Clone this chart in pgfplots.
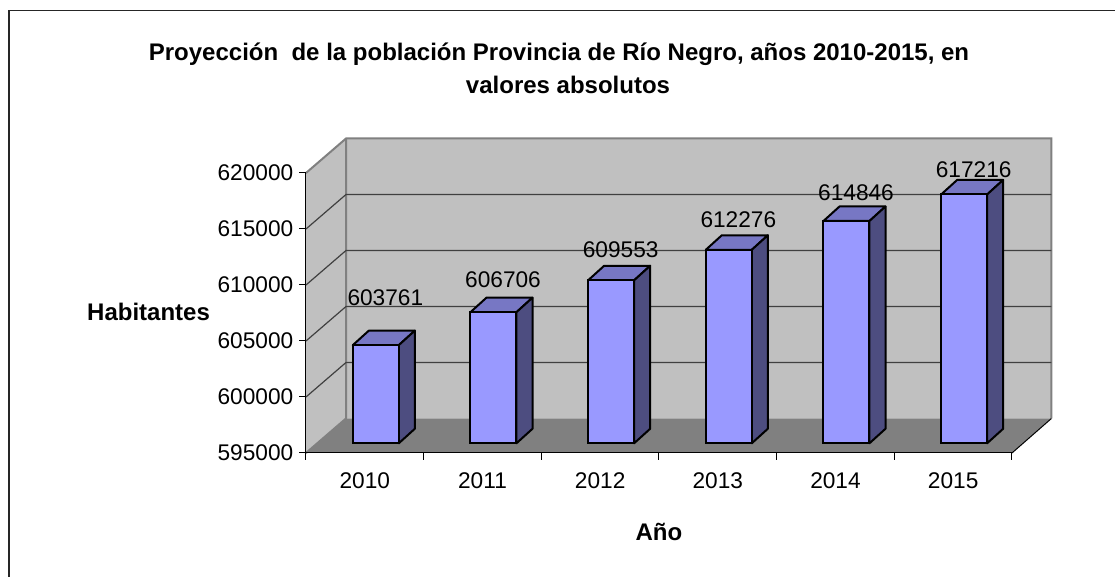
\documentclass[border=0pt]{standalone}
\usepackage{fontspec}
\setmainfont{Liberation Sans}
\usepackage{pgfplots}
\usepackage{pgfplotstable}
\pgfplotsset{compat=1.18}

\definecolor{wall}{HTML}{C0C0C0}
\definecolor{floorc}{HTML}{808080}
\definecolor{barfront}{HTML}{9999FF}
\definecolor{bartop}{HTML}{7777C4}
\definecolor{barside}{HTML}{4D4D80}

% x index, value, height of the label baseline on the value scale
\pgfplotstableread{
x   pop    laby
0.5 603761 608125
1.5 606706 609732
2.5 609553 612411
3.5 612276 615089
4.5 614846 617527
5.5 617216 619554
}\poptable

% top and side of a bar: x0, x0 back, x1, x1 back, value, value back
\newcommand{\barfaces}[6]{
  \addplot[fill=bartop, draw=black, line width=1.5pt, line join=round, barshift]
    coordinates {(#1,#5) (#3,#5) (#4,#6) (#2,#6)} -- cycle;
  \addplot[fill=barside, draw=black, line width=1.5pt, line join=round, barshift]
    coordinates {(#3,#5) (#4,#6) (#4,596295) (#3,595000)} -- cycle;
}

\begin{document}
\begin{tikzpicture}[x=0.75pt, y=0.75pt]
\useasboundingbox (-306,-124) rectangle (809,453);
\draw[line width=1.2pt, black!85] (-297,-124) -- (-297,442.5) -- (809,442.5);

\begin{axis}[
  at={(0,0)}, anchor=south west,
  scale only axis,
  width=529.5pt, height=210pt,
  xmin=0, xmax=6, ymin=595000, ymax=620000,
  clip=false,
  axis on top,
  axis y line*=left, axis x line*=bottom,
  axis line style={-, line width=0.75pt},
  tick align=outside,
  major tick length=5pt,
  tick style={black, line width=0.75pt},
  xtick={0,...,6},
  x tick label as interval,
  xticklabels={2010,2011,2012,2013,2014,2015},
  ytick={595000,600000,...,620000},
  font=\fontsize{17}{20}\selectfont,
  tick label style={font=\fontsize{17}{20}\selectfont},
  /pgf/number format/assume math mode=true,
  /pgf/number format/.cd, fixed, precision=0, 1000 sep={},
  /pgfplots/.cd,
  scaled y ticks=false,
  xticklabel style={yshift=-6pt},
  yticklabel style={xshift=-1pt},
  title={Proyección\ \ de la población Provincia de Río Negro, años 2010-2015, en\\\hspace*{13.5pt}valores absolutos},
  title style={at={(0.3584,1.344)}, anchor=center, align=center, font=\fontsize{18}{24.75}\selectfont\bfseries},
  xlabel={Año},
  every axis x label/.style={at={(0.5,-0.282)}, anchor=center, font=\fontsize{18}{20}\selectfont\bfseries},
  ylabel={Habitantes},
  every axis y label/.style={at={(-0.223,0.5036)}, anchor=center, font=\fontsize{18}{20}\selectfont\bfseries},
  barshift/.style={xshift=8.25pt, yshift=7.3pt},
]
% walls and floor
\addplot[fill=wall, draw=none] coordinates {(0,595000) (0.34,598080) (0.34,623080) (0,620000)} -- cycle;
\addplot[fill=wall, draw=none] coordinates {(0.34,598080) (6.335,598080) (6.335,623080) (0.34,623080)} -- cycle;
\addplot[fill=floorc, draw=none] coordinates {(0,595000) (6,595000) (6.335,598080) (0.34,598080)} -- cycle;
\addplot[floorc, line width=1.5pt] coordinates {(0,620000) (0.34,623080) (6.335,623080) (6.335,598080)};
\addplot[floorc, line width=1.5pt] coordinates {(0,595000) (0.34,598080) (0.34,623080)};
\addplot[black, line width=0.75pt] coordinates {(6,595000) (6.335,598080)};
% grid on both walls
\addplot[black!75, line width=0.9pt] coordinates {(0,600000) (0.34,603080) (6.335,603080)};
\addplot[black!75, line width=0.9pt] coordinates {(0,605000) (0.34,608080) (6.335,608080)};
\addplot[black!75, line width=0.9pt] coordinates {(0,610000) (0.34,613080) (6.335,613080)};
\addplot[black!75, line width=0.9pt] coordinates {(0,615000) (0.34,618080) (6.335,618080)};

% bars
\barfaces{0.3045}{0.4405}{0.6955}{0.8315}{603761}{605056}
\barfaces{1.3045}{1.4405}{1.6955}{1.8315}{606706}{608001}
\barfaces{2.3045}{2.4405}{2.6955}{2.8315}{609553}{610848}
\barfaces{3.3045}{3.4405}{3.6955}{3.8315}{612276}{613571}
\barfaces{4.3045}{4.4405}{4.6955}{4.8315}{614846}{616141}
\barfaces{5.3045}{5.4405}{5.6955}{5.8315}{617216}{618511}
\addplot[ybar, bar width=34.5pt, fill=barfront, draw=black, line width=1.5pt, barshift]
  table[x=x, y=pop] {\poptable};

% value labels
\addplot[draw=none, mark=none, point meta=explicit,
  nodes near coords,
  every node near coord/.style={anchor=base, inner sep=0pt, xshift=15.4pt,
    font=\fontsize{17}{20}\selectfont},
] table[x=x, y=laby, meta=pop] {\poptable};
\end{axis}
\end{tikzpicture}
\end{document}
